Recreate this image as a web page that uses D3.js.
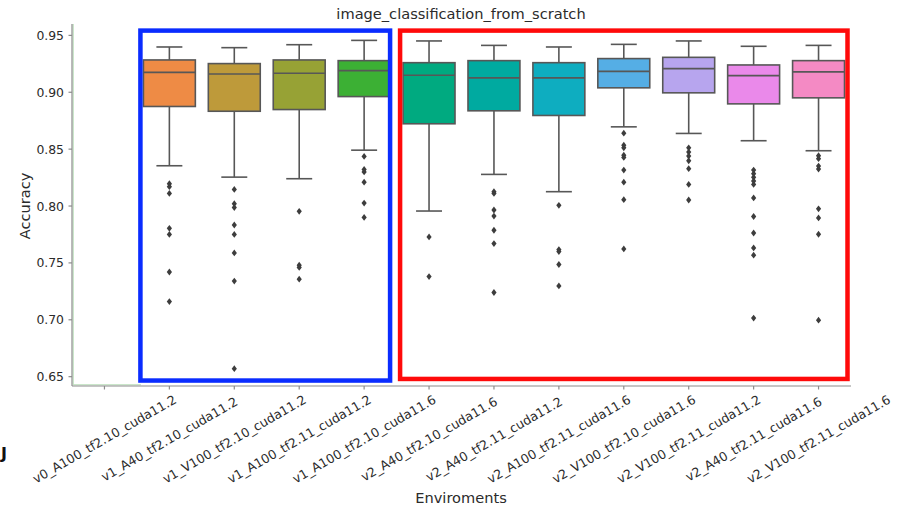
<!DOCTYPE html>
<html><head><meta charset="utf-8">
<script src="https://cdn.jsdelivr.net/npm/d3@7"></script>
<style>body{margin:0;background:#fff} svg{display:block} text{font-family:"DejaVu Sans",sans-serif}</style>
</head><body><svg id="c" width="898" height="508"></svg>
<script>
const title = "image_classification_from_scratch";
const xLabel = "Enviroments";
const yLabel = "Accuracy";
const categories = [
  "v0_A100_tf2.10_cuda11.2","v1_A40_tf2.10_cuda11.2","v1_V100_tf2.10_cuda11.2",
  "v1_A100_tf2.11_cuda11.2","v1_A100_tf2.10_cuda11.6","v2_A40_tf2.10_cuda11.6",
  "v2_A40_tf2.11_cuda11.2","v2_A100_tf2.11_cuda11.6","v2_V100_tf2.10_cuda11.6",
  "v2_V100_tf2.11_cuda11.2","v2_A40_tf2.11_cuda11.6","v2_V100_tf2.11_cuda11.6"];
const whiskerLow  = [null,.8354,.8254,.8240,.8491,.7956,.8278,.8126,.8696,.8638,.8574,.8486];
const q1          = [null,.8875,.8833,.8848,.8962,.8723,.8837,.8796,.9039,.8995,.8898,.8951];
const median      = [null,.9175,.9161,.9167,.9190,.9149,.9126,.9126,.9184,.9208,.9146,.9179];
const q3          = [null,.9284,.9252,.9284,.9278,.9260,.9278,.9260,.9296,.9307,.9240,.9278];
const whiskerHigh = [null,.9398,.9392,.9418,.9456,.9451,.9412,.9398,.9421,.9451,.9404,.9412];
const outliers = [
  [],
  [.8196,.8170,.8111,.7804,.7750,.7420,.7160],
  [.8146,.8020,.7986,.7833,.7750,.7588,.7340,.6570],
  [.7953,.7480,.7460,.7357],
  [.8436,.8322,.8300,.8210,.8026,.7900],
  [.7728,.7380],
  [.8126,.8111,.7965,.7912,.7787,.7670,.7240],
  [.8006,.7617,.7600,.7486,.7298],
  [.8640,.8535,.8512,.8447,.8427,.8316,.8210,.8056,.7623],
  [.8512,.8474,.8439,.8398,.8328,.8190,.8053],
  [.8316,.8284,.8252,.8220,.8190,.8071,.7908,.7763,.7632,.7568,.7015],
  [.8442,.8416,.8351,.8325,.7975,.7895,.7752,.6997]
];
const boxColors = [null,"#EE8B45","#BE9A3A","#97A235","#3CB034","#00AA80","#00AAA0","#0EADC0","#55AEE5","#B7A5EE","#EA89EA","#F48AC4"];
const yTicks = [0.65,0.70,0.75,0.80,0.85,0.90,0.95];
const blueGroup = [1,4];
const redGroup = [5,11];

const svg = d3.select("#c");
const x = d3.scaleBand().domain(categories).range([72,851]).padding(0);
const y = d3.scaleLinear().domain([0.6418,0.960]).range([386,24]);
const bw = x.bandwidth()*0.8;
const lineCol = "#575757";

// faint green guide line along the left spine
svg.append("path").attr("d",`M${x.range()[0]+1.2},${y.range()[1]}V${y.range()[0]-1.2}H${x(categories[1])+4}`)
  .attr("fill","none").attr("stroke","#b4dcb4").attr("stroke-width",1);

// boxes
const g = svg.append("g");
categories.forEach((c,i)=>{
  if(q1[i]==null) return;
  const cx = x(c)+x.bandwidth()/2;
  const bg = g.append("g");
  bg.append("line").attr("x1",cx).attr("x2",cx).attr("y1",y(q3[i])).attr("y2",y(whiskerHigh[i])).attr("stroke",lineCol).attr("stroke-width",1.6);
  bg.append("line").attr("x1",cx).attr("x2",cx).attr("y1",y(q1[i])).attr("y2",y(whiskerLow[i])).attr("stroke",lineCol).attr("stroke-width",1.6);
  [whiskerHigh[i],whiskerLow[i]].forEach(v=>{
    bg.append("line").attr("x1",cx-bw/4).attr("x2",cx+bw/4).attr("y1",y(v)).attr("y2",y(v)).attr("stroke",lineCol).attr("stroke-width",1.6);
  });
  bg.append("rect").attr("x",cx-bw/2).attr("width",bw).attr("y",y(q3[i])).attr("height",y(q1[i])-y(q3[i]))
    .attr("fill",boxColors[i]).attr("stroke",lineCol).attr("stroke-width",1.6);
  bg.append("line").attr("x1",cx-bw/2).attr("x2",cx+bw/2).attr("y1",y(median[i])).attr("y2",y(median[i])).attr("stroke",lineCol).attr("stroke-width",1.6);
  outliers[i].forEach(v=>{
    bg.append("path").attr("d","M0,-3.4L2.6,0L0,3.4L-2.6,0Z").attr("transform",`translate(${cx},${y(v)})`).attr("fill","#3d3d3d");
  });
});

// axes
const axCol = "#8c8c8c", txtCol = "#2b2b2b";
svg.append("line").attr("x1",x.range()[0]).attr("x2",x.range()[0]).attr("y1",y.range()[1]).attr("y2",y.range()[0]).attr("stroke",axCol).attr("stroke-width",1.2);
svg.append("line").attr("x1",x.range()[0]).attr("x2",x.range()[1]).attr("y1",y.range()[0]).attr("y2",y.range()[0]).attr("stroke",axCol).attr("stroke-width",1.2);
yTicks.forEach(t=>{
  svg.append("line").attr("x1",x.range()[0]-3.5).attr("x2",x.range()[0]).attr("y1",y(t)).attr("y2",y(t)).attr("stroke",axCol).attr("stroke-width",1.2);
  svg.append("text").attr("x",x.range()[0]-8).attr("y",y(t)).attr("text-anchor","end").attr("dominant-baseline","central")
    .attr("font-size","12.4px").attr("fill",txtCol).text(d3.format(".2f")(t));
});
categories.forEach(c=>{
  const cx = x(c)+x.bandwidth()/2;
  svg.append("line").attr("x1",cx).attr("x2",cx).attr("y1",y.range()[0]).attr("y2",y.range()[0]+3.5).attr("stroke",axCol).attr("stroke-width",1.2);
  svg.append("text").attr("transform",`translate(${cx},439) rotate(-30)`).attr("text-anchor","middle").attr("dominant-baseline","central")
    .attr("font-size","12.6px").attr("fill",txtCol).text(c);
});

// annotation rectangles
function groupRect(gr,col,leftPad,rightPad,yTop,yBot){
  const x0 = x(categories[gr[0]])+leftPad;
  const x1 = x(categories[gr[1]])+x.bandwidth()-rightPad;
  svg.append("rect").attr("x",x0).attr("y",y(yTop)).attr("width",x1-x0).attr("height",y(yBot)-y(yTop))
    .attr("fill","none").attr("stroke",col).attr("stroke-width",4.5);
}
groupRect(blueGroup,"#0a2cff",3.5,6.5,0.9542,0.6466);
groupRect(redGroup,"#ff0a0a",3.5,3.5,0.9542,0.6480);

// texts
svg.append("text").attr("x",461).attr("y",13).attr("text-anchor","middle").attr("dominant-baseline","central")
  .attr("font-size","14.6px").attr("fill",txtCol).text(title);
svg.append("text").attr("x",461).attr("y",497).attr("text-anchor","middle").attr("dominant-baseline","central")
  .attr("font-size","14.6px").attr("fill",txtCol).text(xLabel);
svg.append("text").attr("transform","translate(24,206) rotate(-90)").attr("text-anchor","middle").attr("dominant-baseline","central")
  .attr("font-size","14.6px").attr("fill",txtCol).text(yLabel);
// stray glyph at the bottom-left edge of the screenshot
svg.append("text").attr("x",1).attr("y",459).attr("font-size","16px").attr("font-weight","bold").attr("fill","#111").text("J");
</script></body></html>
